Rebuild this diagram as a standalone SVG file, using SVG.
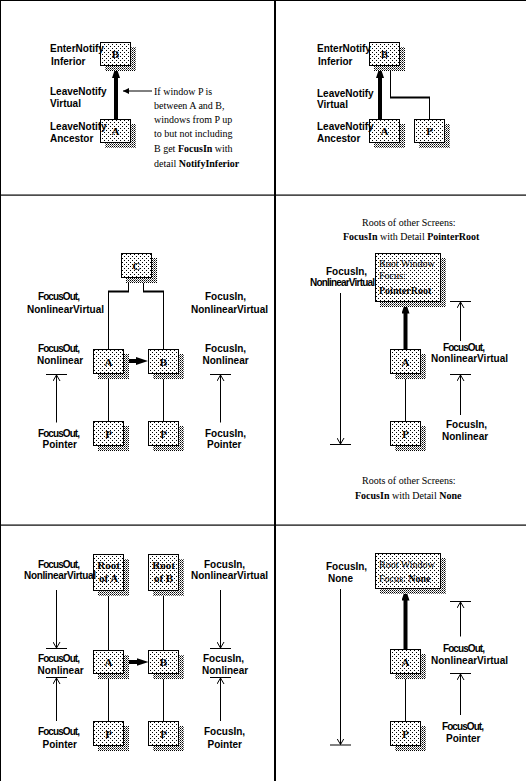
<svg xmlns="http://www.w3.org/2000/svg" width="526" height="781" viewBox="0 0 526 781">
<defs>
<pattern id="dots" x="0" y="0" width="4" height="4" patternUnits="userSpaceOnUse"><rect width="4" height="4" fill="#fff"/><rect width="1" height="1" fill="#000"/><rect x="2" y="2" width="1" height="1" fill="#000"/></pattern>
<pattern id="shade" x="0" y="0" width="2" height="2" patternUnits="userSpaceOnUse"><rect width="2" height="2" fill="#fff"/><rect width="1" height="1" fill="#000"/><rect x="1" y="1" width="1" height="1" fill="#000" fill-opacity="0.6"/></pattern>
<marker id="thick" viewBox="0 0 12 8" refX="2" refY="4" markerWidth="12" markerHeight="8" markerUnits="userSpaceOnUse" orient="auto"><path d="M0,0 L12,4 L0,8 Z" fill="#000"/></marker>
<marker id="small" viewBox="0 0 6 6" refX="6" refY="3" markerWidth="6" markerHeight="6" markerUnits="userSpaceOnUse" orient="auto"><path d="M0,0 L6,3 L0,6 Z" fill="#000"/></marker>
<marker id="open" viewBox="0 0 6 8" refX="6" refY="4" markerWidth="6" markerHeight="8" markerUnits="userSpaceOnUse" orient="auto"><path d="M0,0.5 L6,4 L0,7.5" fill="none" stroke="#000" stroke-width="1"/></marker>
</defs>
<style>
.lbl{font-family:"Liberation Sans",Arial,sans-serif;font-weight:bold;font-size:10px;fill:#000}
.ser{font-family:"Liberation Serif","Times New Roman",serif;font-size:10px;fill:#000}
.b{font-weight:bold}
.box{fill:url(#dots);stroke:#000;stroke-width:1}
.shd{fill:url(#shade)}
.let{font-family:"Liberation Serif","Times New Roman",serif;font-weight:bold;font-size:11px;text-anchor:middle;fill:#000}
.ln{stroke:#000;stroke-width:1;fill:none}
.ln2{stroke:#000;stroke-width:2;fill:none}
.tk{stroke:#000;stroke-width:4;fill:none;marker-end:url(#thick)}
.op{stroke:#000;stroke-width:1;fill:none;marker-end:url(#open)}
.sm{stroke:#000;stroke-width:1;fill:none;marker-end:url(#small)}
.frame{fill:#000}
</style>
<rect width="526" height="781" fill="#fff"/>
<g id="frame">
<rect class="frame" x="0" y="0" width="526" height="1"/>
<rect class="frame" x="0" y="0" width="1" height="781"/>
<rect class="frame" x="274" y="0" width="2" height="781"/>
<rect class="frame" x="0" y="194.5" width="526" height="1.2"/>
<rect class="frame" x="0" y="524.5" width="526" height="1.2"/>
</g>

<g id="connectors">
<line class="tk" x1="116" y1="119.5" x2="116" y2="76"/>
<line class="sm" x1="152" y1="91" x2="123" y2="91"/>
<line class="tk" x1="380" y1="119.5" x2="380" y2="76"/>
<path class="ln" d="M390.5,65.5 V97.5"/>
<path class="ln2" d="M390,97.5 H430"/>
<path class="ln" d="M429.5,97.5 V119.5"/>
<path class="ln" d="M128.5,277.5 V291.5"/>
<path class="ln2" d="M129,291.5 H108"/>
<path class="ln" d="M108.5,291.5 V349.5"/>
<path class="ln" d="M143.5,277.5 V291.5"/>
<path class="ln2" d="M143,291.5 H164"/>
<path class="ln" d="M163.5,291.5 V349.5"/>
<line class="tk" x1="123.5" y1="361" x2="138" y2="361"/>
<line class="ln" x1="108.5" y1="373.5" x2="108.5" y2="421.5"/>
<line class="ln" x1="163.5" y1="373.5" x2="163.5" y2="421.5"/>
<line class="op" x1="56.5" y1="422.5" x2="56.5" y2="375"/>
<line class="ln" x1="46" y1="374.5" x2="67" y2="374.5"/>
<line class="op" x1="220.5" y1="422.5" x2="220.5" y2="375"/>
<line class="ln" x1="210" y1="374.5" x2="231" y2="374.5"/>
<line class="tk" x1="405.5" y1="349.5" x2="405.5" y2="311.5"/>
<line class="ln" x1="405.5" y1="373.5" x2="405.5" y2="421.5"/>
<line class="op" x1="340.5" y1="293" x2="340.5" y2="444"/>
<line class="ln" x1="330" y1="444.5" x2="351" y2="444.5"/>
<line class="op" x1="460.5" y1="341" x2="460.5" y2="302"/>
<line class="ln" x1="450" y1="301.5" x2="471" y2="301.5"/>
<line class="op" x1="460.5" y1="415" x2="460.5" y2="375"/>
<line class="ln" x1="450" y1="374.5" x2="471" y2="374.5"/>
<line class="ln" x1="108.5" y1="590.5" x2="108.5" y2="650.5"/>
<line class="ln" x1="163.5" y1="590.5" x2="163.5" y2="650.5"/>
<line class="tk" x1="123.5" y1="662" x2="138.5" y2="662"/>
<line class="ln" x1="108.5" y1="673.5" x2="108.5" y2="721.5"/>
<line class="ln" x1="163.5" y1="673.5" x2="163.5" y2="721.5"/>
<line class="op" x1="56.5" y1="590" x2="56.5" y2="648"/>
<line class="ln" x1="46" y1="648.5" x2="67" y2="648.5"/>
<line class="op" x1="56.5" y1="721" x2="56.5" y2="678"/>
<line class="ln" x1="46" y1="677.5" x2="67" y2="677.5"/>
<line class="op" x1="220.5" y1="590" x2="220.5" y2="648"/>
<line class="ln" x1="210" y1="648.5" x2="231" y2="648.5"/>
<line class="op" x1="220.5" y1="721" x2="220.5" y2="678"/>
<line class="ln" x1="210" y1="677.5" x2="231" y2="677.5"/>
<line class="tk" x1="405.5" y1="649.5" x2="405.5" y2="598.5"/>
<line class="ln" x1="405.5" y1="673.5" x2="405.5" y2="721.5"/>
<line class="op" x1="340.5" y1="589" x2="340.5" y2="744.5"/>
<line class="ln" x1="330" y1="745" x2="351" y2="745"/>
<line class="op" x1="460.5" y1="636.5" x2="460.5" y2="602"/>
<line class="ln" x1="450" y1="601.5" x2="471" y2="601.5"/>
<line class="op" x1="460.5" y1="715" x2="460.5" y2="674"/>
<line class="ln" x1="450" y1="673.5" x2="471" y2="673.5"/>
</g>

<g id="tl-B"><rect class="shd" x="105" y="47" width="31" height="24"/><rect class="box" x="100.5" y="42.5" width="30" height="23"/><text class="let" x="115.5" y="58">B</text></g>
<g id="tl-A"><rect class="shd" x="105" y="124" width="31" height="24"/><rect class="box" x="100.5" y="119.5" width="30" height="23"/><text class="let" x="115.5" y="135">A</text></g>
<g id="tr-B"><rect class="shd" x="374" y="47" width="31" height="24"/><rect class="box" x="369.5" y="42.5" width="30" height="23"/><text class="let" x="384.5" y="58">B</text></g>
<g id="tr-A"><rect class="shd" x="374" y="124" width="31" height="24"/><rect class="box" x="369.5" y="119.5" width="30" height="23"/><text class="let" x="384.5" y="135">A</text></g>
<g id="tr-P"><rect class="shd" x="419" y="124" width="31" height="24"/><rect class="box" x="414.5" y="119.5" width="30" height="23"/><text class="let" x="429.5" y="135">P</text></g>
<g id="ml-C"><rect class="shd" x="126" y="258" width="31" height="25"/><rect class="box" x="121.5" y="253.5" width="30" height="24"/><text class="let" x="136.5" y="269.5">C</text></g>
<g id="ml-A"><rect class="shd" x="98" y="354" width="31" height="25"/><rect class="box" x="93.5" y="349.5" width="30" height="24"/><text class="let" x="108.5" y="365.5">A</text></g>
<g id="ml-B"><rect class="shd" x="153" y="354" width="31" height="25"/><rect class="box" x="148.5" y="349.5" width="30" height="24"/><text class="let" x="163.5" y="365.5">B</text></g>
<g id="ml-P1"><rect class="shd" x="98" y="426" width="31" height="25"/><rect class="box" x="93.5" y="421.5" width="30" height="24"/><text class="let" x="108.5" y="437.5">P</text></g>
<g id="ml-P2"><rect class="shd" x="153" y="426" width="31" height="25"/><rect class="box" x="148.5" y="421.5" width="30" height="24"/><text class="let" x="163.5" y="437.5">P</text></g>
<g id="mr-Root"><rect class="shd" x="380" y="258" width="66" height="49"/><rect class="box" x="375.5" y="253.5" width="65" height="48"/>
<text class="ser" x="379" y="267">Root Window</text><text class="ser" x="379" y="279">Focus:</text><text class="ser b" x="379" y="294" font-size="11.5">PointerRoot</text></g>
<g id="mr-A"><rect class="shd" x="395" y="354" width="31" height="25"/><rect class="box" x="390.5" y="349.5" width="30" height="24"/><text class="let" x="405.5" y="365.5">A</text></g>
<g id="mr-P"><rect class="shd" x="395" y="426" width="31" height="25"/><rect class="box" x="390.5" y="421.5" width="30" height="24"/><text class="let" x="405.5" y="437.5">P</text></g>
<g id="bl-RootA"><rect class="shd" x="98" y="559" width="31" height="37"/><rect class="box" x="93.5" y="554.5" width="30" height="36"/><text class="let" x="108.5" y="569">Root</text><text class="let" x="108.5" y="582">of A</text></g>
<g id="bl-RootB"><rect class="shd" x="153" y="559" width="31" height="37"/><rect class="box" x="148.5" y="554.5" width="30" height="36"/><text class="let" x="163.5" y="569">Root</text><text class="let" x="163.5" y="582">of B</text></g>
<g id="bl-A"><rect class="shd" x="98" y="655" width="31" height="24"/><rect class="box" x="93.5" y="650.5" width="30" height="23"/><text class="let" x="108.5" y="666">A</text></g>
<g id="bl-B"><rect class="shd" x="153" y="655" width="31" height="24"/><rect class="box" x="148.5" y="650.5" width="30" height="23"/><text class="let" x="163.5" y="666">B</text></g>
<g id="bl-P1"><rect class="shd" x="98" y="726" width="31" height="25"/><rect class="box" x="93.5" y="721.5" width="30" height="24"/><text class="let" x="108.5" y="737.5">P</text></g>
<g id="bl-P2"><rect class="shd" x="153" y="726" width="31" height="25"/><rect class="box" x="148.5" y="721.5" width="30" height="24"/><text class="let" x="163.5" y="737.5">P</text></g>
<g id="br-Root"><rect class="shd" x="380" y="558" width="66" height="36"/><rect class="box" x="375.5" y="553.5" width="65" height="35"/>
<text class="ser" x="379" y="568">Root Window</text><text class="ser" x="379" y="582">Focus: <tspan class="b">None</tspan></text></g>
<g id="br-A"><rect class="shd" x="395" y="654" width="31" height="25"/><rect class="box" x="390.5" y="649.5" width="30" height="24"/><text class="let" x="405.5" y="665.5">A</text></g>
<g id="br-P"><rect class="shd" x="395" y="726" width="31" height="25"/><rect class="box" x="390.5" y="721.5" width="30" height="24"/><text class="let" x="405.5" y="737.5">P</text></g>

<g id="labels">
<text class="lbl" x="50" y="51.5">EnterNotify</text>
<text class="lbl" x="51" y="64.5">Inferior</text>
<text class="lbl" x="50" y="94.5">LeaveNotify</text>
<text class="lbl" x="50" y="107">Virtual</text>
<text class="lbl" x="50" y="130">LeaveNotify</text>
<text class="lbl" x="50" y="141.5">Ancestor</text>
<text class="ser" x="154" y="94.5">If window P is</text>
<text class="ser" x="154" y="109">between A and B,</text>
<text class="ser" x="154" y="122.5">windows from P up</text>
<text class="ser" x="154" y="137">to but not including</text>
<text class="ser" x="154" y="152">B get <tspan class="b">FocusIn</tspan> with</text>
<text class="ser" x="154" y="167">detail <tspan class="b">NotifyInferior</tspan></text>
<text class="lbl" x="317" y="51.5">EnterNotify</text>
<text class="lbl" x="318" y="64.5">Inferior</text>
<text class="lbl" x="317" y="96.5">LeaveNotify</text>
<text class="lbl" x="317" y="108">Virtual</text>
<text class="lbl" x="317" y="130">LeaveNotify</text>
<text class="lbl" x="317" y="141.5">Ancestor</text>
<text class="lbl" x="38" y="300" textLength="42">FocusOut,</text>
<text class="lbl" x="27" y="313">NonlinearVirtual</text>
<text class="lbl" x="205" y="300">FocusIn,</text>
<text class="lbl" x="191" y="313">NonlinearVirtual</text>
<text class="lbl" x="38" y="352" textLength="42">FocusOut,</text>
<text class="lbl" x="37" y="363.5">Nonlinear</text>
<text class="lbl" x="205" y="352">FocusIn,</text>
<text class="lbl" x="202.5" y="363.5">Nonlinear</text>
<text class="lbl" x="38" y="437" textLength="42">FocusOut,</text>
<text class="lbl" x="42.5" y="448">Pointer</text>
<text class="lbl" x="205" y="437">FocusIn,</text>
<text class="lbl" x="207" y="448">Pointer</text>
<text class="ser" x="362" y="226">Roots of other Screens:</text>
<text class="ser" x="343" y="240"><tspan class="b">FocusIn</tspan> with Detail <tspan class="b">PointerRoot</tspan></text>
<text class="lbl" x="326" y="275">FocusIn,</text>
<text class="lbl" x="310" y="286" textLength="65">NonlinearVirtual</text>
<text class="lbl" x="443" y="351" textLength="42">FocusOut,</text>
<text class="lbl" x="431" y="362">NonlinearVirtual</text>
<text class="lbl" x="446" y="427.5">FocusIn,</text>
<text class="lbl" x="442" y="440">Nonlinear</text>
<text class="ser" x="362" y="483.5">Roots of other Screens:</text>
<text class="ser" x="355" y="499"><tspan class="b">FocusIn</tspan> with Detail <tspan class="b">None</tspan></text>
<text class="lbl" x="38" y="568" textLength="42">FocusOut,</text>
<text class="lbl" x="24" y="579" textLength="72">NonlinearVirtual</text>
<text class="lbl" x="204" y="568">FocusIn,</text>
<text class="lbl" x="191" y="579">NonlinearVirtual</text>
<text class="lbl" x="38" y="662" textLength="42">FocusOut,</text>
<text class="lbl" x="37.5" y="674">Nonlinear</text>
<text class="lbl" x="203" y="662">FocusIn,</text>
<text class="lbl" x="202" y="674">Nonlinear</text>
<text class="lbl" x="38" y="735" textLength="42">FocusOut,</text>
<text class="lbl" x="42.5" y="748">Pointer</text>
<text class="lbl" x="204" y="735">FocusIn,</text>
<text class="lbl" x="207.5" y="748">Pointer</text>
<text class="lbl" x="326" y="570">FocusIn,</text>
<text class="lbl" x="328" y="582">None</text>
<text class="lbl" x="443" y="652" textLength="42">FocusOut,</text>
<text class="lbl" x="431" y="663.5">NonlinearVirtual</text>
<text class="lbl" x="442" y="729.5" textLength="42">FocusOut,</text>
<text class="lbl" x="446" y="742">Pointer</text>
</g>
</svg>
